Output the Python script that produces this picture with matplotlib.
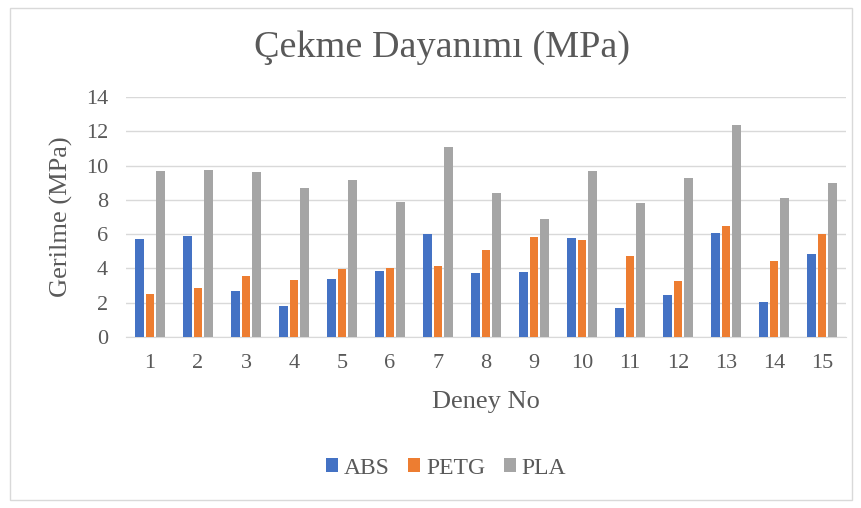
import matplotlib
matplotlib.use("Agg")
import matplotlib.pyplot as plt
from matplotlib.patches import Rectangle
import numpy as np

plt.rcParams['font.family'] = ['Liberation Serif', 'DejaVu Serif']

deney_no = [str(i) for i in range(1, 16)]
abs_vals = [5.74, 5.91, 2.70, 1.82, 3.39, 3.86, 6.03, 3.76, 3.80, 5.76, 1.72, 2.47, 6.05, 2.06, 4.82]
petg_vals = [2.51, 2.86, 3.56, 3.35, 3.99, 4.05, 4.15, 5.05, 5.85, 5.64, 4.74, 3.25, 6.50, 4.46, 6.03]
pla_vals = [9.67, 9.73, 9.63, 8.67, 9.16, 7.87, 11.06, 8.38, 6.91, 9.69, 7.81, 9.30, 12.36, 8.13, 8.97]

series = [("ABS", abs_vals, "#4472C4"),
          ("PETG", petg_vals, "#ED7D31"),
          ("PLA", pla_vals, "#A5A5A5")]

text_col = "#595959"
W, H = 862, 508
fig = plt.figure(figsize=(W / 100, H / 100), dpi=100)

# chart border
fig.add_artist(Rectangle((10 / W, 8 / H), 842 / W, 492 / H, transform=fig.transFigure,
                         fill=False, edgecolor="#d9d9d9", linewidth=1))

ax = fig.add_axes([126 / W, 1 - 337 / H, 720 / W, 240 / H])
x = np.arange(len(deney_no))
width = 0.175
offsets = [-0.22, 0.0, 0.22]
for (name, vals, col), off in zip(series, offsets):
    ax.bar(x + off, vals, width, color=col, label=name, zorder=3)

ax.set_xlim(-0.5, len(deney_no) - 0.5)
ax.set_ylim(0, 14)
ax.set_yticks(range(0, 15, 2))
ax.set_xticks(x)
ax.set_xticklabels(deney_no)
ax.grid(axis="y", color="#d9d9d9", linewidth=1, zorder=0)
for s in ["top", "right", "left"]:
    ax.spines[s].set_visible(False)
ax.spines["bottom"].set_color("#d9d9d9")
ax.tick_params(axis="both", length=0, labelsize=16, colors=text_col)
ax.tick_params(axis="y", pad=13)
ax.tick_params(axis="x", pad=12)

fig.text(442 / W, 1 - 48 / H, "Çekme Dayanımı (MPa)", ha="center", va="center",
         fontsize=27.5, color=text_col)
fig.text(61 / W, 1 - 217 / H, "Gerilme (MPa)", ha="center", va="center",
         rotation=90, fontsize=19, color=text_col)
fig.text(486 / W, 1 - 402 / H, "Deney No", ha="center", va="center",
         fontsize=19, color=text_col)

leg = fig.legend(loc="center", bbox_to_anchor=(446 / W, 1 - 468 / H), ncol=3,
                 frameon=False, fontsize=17, handlelength=0.5, handleheight=0.5,
                 handletextpad=0.25, columnspacing=0.8)
for t in leg.get_texts():
    t.set_color(text_col)

fig.savefig("out.png", dpi=100)
